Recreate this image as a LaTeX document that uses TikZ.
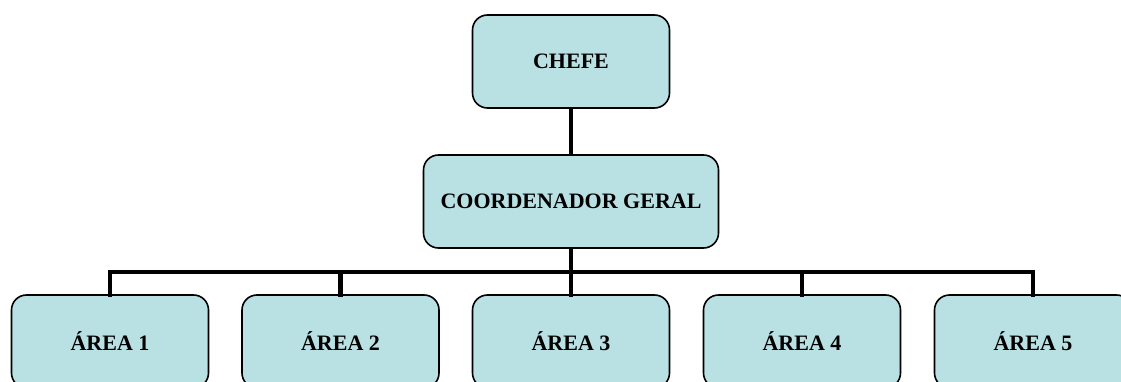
\documentclass[tikz,border=0pt]{standalone}
\usepackage{fontspec}
\setmainfont{Liberation Serif}
\usepackage{tikz}
\definecolor{boxFill}{RGB}{185,224,227}

\begin{document}
\begin{tikzpicture}
[x=1pt,y=-1pt,
box/.style={draw=black,line width=1.6pt,rounded corners=15pt,fill=boxFill,minimum height=93pt,inner sep=0pt,font=\fontsize{22}{24}\selectfont\bfseries},
smallBox/.style={box,minimum width=197pt},
wideBox/.style={box,minimum width=295pt},
link/.style={line width=4.8pt},
]
\useasboundingbox (0,0) rectangle (1121,382);
\clip (0,0) rectangle (1121,382);
\node[smallBox,] (chefe) at (571 , 61.5) {CHEFE};
\node[wideBox,] (coord) at (571 , 201.5) {COORDENADOR GERAL};
\node[smallBox,] (a1) at (110 , 341.5) {ÁREA 1};
\node[smallBox,] (a2) at (340.5 , 341.5) {ÁREA 2};
\node[smallBox,] (a3) at (571 , 341.5) {ÁREA 3};
\node[smallBox,] (a4) at (802 , 341.5) {ÁREA 4};
\node[smallBox,] (a5) at (1033 , 341.5) {ÁREA 5};
\coordinate (bus) at (571 , 272);
\draw[link,](chefe) -- (coord) ;
\draw[link,](coord) -- (bus) ;
\foreach \i in {1,...,5}
  \draw[link,line cap=rect](bus) -| (a\i) ;
\end{tikzpicture}
\end{document}
